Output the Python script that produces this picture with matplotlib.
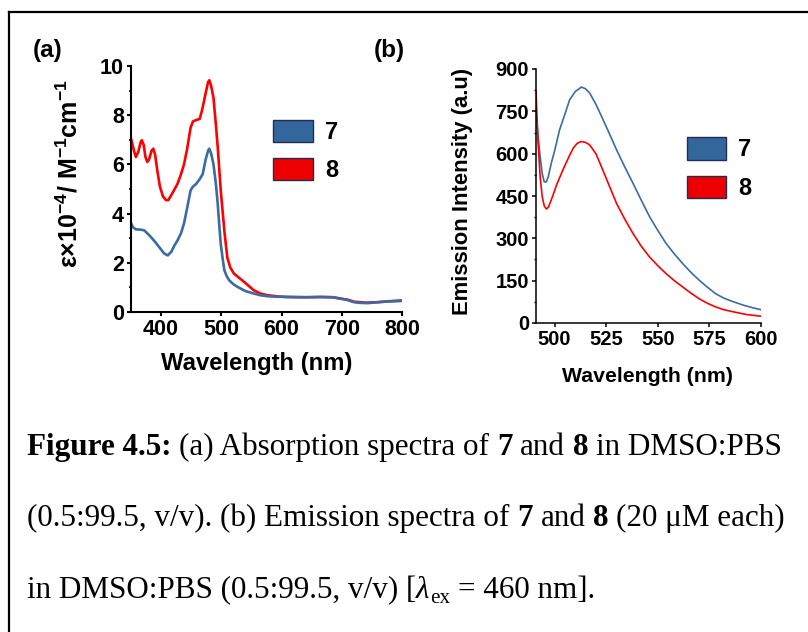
import matplotlib
matplotlib.use("Agg")
import matplotlib.pyplot as plt
from matplotlib.patches import Patch
from matplotlib.lines import Line2D
from matplotlib.ticker import MultipleLocator

plt.rcParams["font.family"] = ["Liberation Sans", "DejaVu Sans"]
plt.rcParams["mathtext.fontset"] = "custom"
plt.rcParams["mathtext.rm"] = "Liberation Sans:bold"
plt.rcParams["mathtext.it"] = "Liberation Sans:bold"
plt.rcParams["mathtext.bf"] = "Liberation Sans:bold"

# ---- absorption spectra (panel a) ----
abs_wl_8 = [350, 355, 358, 362, 366, 368, 371, 374, 377, 380, 384, 387, 390, 394,
            398, 403, 408, 412, 418, 427, 433, 438, 443, 449, 453, 458, 464, 468,
            474, 478, 480, 483, 487, 491, 494, 499, 505, 510, 515, 521, 530, 538,
            546, 554, 565, 577, 595, 610, 640, 665, 685, 698, 710, 720, 730, 740,
            760, 780, 800]
abs_eps_8 = [7.05, 6.55, 6.30, 6.50, 6.90, 6.98, 6.80, 6.30, 6.10, 6.20, 6.55, 6.64,
             6.40, 5.70, 5.10, 4.70, 4.55, 4.55, 4.80, 5.20, 5.60, 6.00, 6.60, 7.50,
             7.75, 7.80, 7.85, 8.20, 8.90, 9.35, 9.42, 9.20, 8.70, 7.60, 6.70, 4.95,
             3.30, 2.20, 1.80, 1.56, 1.38, 1.22, 1.05, 0.88, 0.75, 0.68, 0.63, 0.61,
             0.60, 0.61, 0.60, 0.54, 0.50, 0.42, 0.40, 0.38, 0.40, 0.44, 0.47]

abs_wl_7 = [350, 353, 358, 365, 372, 377, 383, 390, 398, 405, 411, 417, 422, 427,
            433, 438, 443, 449, 453, 458, 464, 469, 474, 478, 480, 483, 487, 491,
            494, 497, 499, 502, 505, 509, 513, 520, 527, 540, 554, 565, 577, 595,
            610, 640, 665, 685, 698, 710, 720, 730, 743, 760, 780, 800]
abs_eps_7 = [3.62, 3.45, 3.36, 3.35, 3.32, 3.20, 3.05, 2.85, 2.60, 2.38, 2.30, 2.45,
             2.70, 2.90, 3.20, 3.60, 4.20, 4.95, 5.10, 5.20, 5.40, 5.60, 6.20, 6.55,
             6.64, 6.45, 6.00, 5.20, 4.40, 3.40, 2.78, 2.20, 1.70, 1.45, 1.29, 1.13,
             1.02, 0.85, 0.75, 0.68, 0.64, 0.62, 0.61, 0.60, 0.61, 0.60, 0.55, 0.48,
             0.40, 0.37, 0.36, 0.40, 0.43, 0.45]

# ---- emission spectra (panel b) ----
em_wl_7 = [491, 492, 493, 494, 495, 496, 497, 498.4, 500, 502.4, 505, 507.3, 510,
           513, 515, 517, 520, 522, 526, 530, 534, 538, 542, 546, 550, 554, 558,
           562, 566, 570, 574, 578, 582, 586.7, 592, 596, 600]
em_int_7 = [750, 660, 590, 530, 500, 500, 520, 566, 610, 684, 740, 791, 820, 836,
            830, 815, 775, 744, 680, 614, 553, 495, 435, 377, 328, 282, 245, 211,
            180, 152, 127, 104, 88, 75, 62, 54, 47]

em_wl_8 = [491, 492, 493, 494, 495, 496, 497, 499, 501, 504, 507, 509, 511, 513,
           515, 517, 520, 522, 526, 530, 534, 538, 542, 546, 550, 554, 558, 562,
           566, 570, 574, 578, 582, 587, 593, 600]
em_int_8 = [820, 640, 520, 448, 415, 404, 410, 448, 490, 542, 590, 619, 637, 643,
            640, 631, 600, 566, 495, 424, 368, 317, 272, 234, 203, 175, 150, 128,
            106, 86, 70, 57, 47, 39, 30, 24]

series_labels = ["7", "8"]
BLUE = "#3A6BA3"
RED = "#FF0000"
PATCH_BLUE = "#33669A"
PATCH_RED = "#EE0000"
PATCH_EDGE = "#1E2E55"

W, H = 808, 632
fig = plt.figure(figsize=(W / 100, H / 100), dpi=100)


def fx(px):
    return px / W


def fy(py):
    return 1 - py / H


def legend_handles():
    return [Patch(facecolor=PATCH_BLUE, edgecolor=PATCH_EDGE, lw=1.0),
            Patch(facecolor=PATCH_RED, edgecolor=PATCH_EDGE, lw=1.0)]


# panel (a)
ax1 = fig.add_axes([fx(131), fy(312), fx(402) - fx(131), fy(66) - fy(312)])
ax1.plot(abs_wl_8, abs_eps_8, color=RED, lw=1.9, solid_joinstyle="round")
ax1.plot(abs_wl_7, abs_eps_7, color=BLUE, lw=1.9, solid_joinstyle="round")
ax1.set_xlim(350, 800)
ax1.set_ylim(0, 10)
ax1.xaxis.set_major_locator(MultipleLocator(100))
ax1.yaxis.set_major_locator(MultipleLocator(2))
ax1.yaxis.set_minor_locator(MultipleLocator(1))
for s in ("top", "right"):
    ax1.spines[s].set_visible(False)
for s in ("left", "bottom"):
    ax1.spines[s].set_linewidth(1.5)
ax1.tick_params(which="major", direction="out", length=3, width=1.5,
                labelsize=15.5, pad=2)
ax1.tick_params(which="minor", direction="out", length=1.8, width=1.2)
for lab in ax1.get_xticklabels() + ax1.get_yticklabels():
    lab.set_fontweight("bold")
ax1.set_xlabel("Wavelength (nm)", fontsize=17.2, fontweight="bold")
ax1.xaxis.set_label_coords((257 - 131) / 271, -(352 - 312) / 246)
ax1.xaxis.label.set_va("top")
ax1.set_ylabel("ε×10$^{-4}$/ M$^{-1}$cm$^{-1}$", fontsize=18, fontweight="bold")
ax1.yaxis.set_label_coords(-(131 - 82) / 271, (312 - 174) / 246)
ax1.legend(handles=legend_handles(), labels=series_labels, loc="upper left",
           bbox_to_anchor=(fx(273), fy(120)), bbox_transform=fig.transFigure,
           frameon=False, borderpad=0, borderaxespad=0, handlelength=1.7,
           handleheight=1.06, handletextpad=0.5, labelspacing=0.6,
           prop={"size": 17, "weight": "bold"})

# panel (b)
ax2 = fig.add_axes([fx(536), fy(323), fx(761) - fx(536), fy(69) - fy(323)])
ax2.plot(em_wl_7, em_int_7, color=BLUE, lw=1.2)
ax2.plot(em_wl_8, em_int_8, color=RED, lw=1.2)
ax2.set_xlim(491, 600)
ax2.set_ylim(0, 900)
ax2.xaxis.set_major_locator(MultipleLocator(25))
ax2.yaxis.set_major_locator(MultipleLocator(150))
ax2.yaxis.set_minor_locator(MultipleLocator(75))
for s in ("top", "right"):
    ax2.spines[s].set_visible(False)
for s in ("left", "bottom"):
    ax2.spines[s].set_linewidth(1.1)
ax2.tick_params(which="major", direction="out", length=3, width=1.1,
                labelsize=14.5, pad=2)
ax2.tick_params(which="minor", direction="out", length=1.8, width=1.0)
for lab in ax2.get_xticklabels() + ax2.get_yticklabels():
    lab.set_fontweight("bold")
ax2.set_xlabel("Wavelength (nm)", fontsize=15.3, fontweight="bold")
ax2.xaxis.set_label_coords((647 - 536) / 225, -(367 - 323) / 254)
ax2.xaxis.label.set_va("top")
ax2.set_ylabel("Emission Intensity (a.u)", fontsize=15.8, fontweight="bold")
ax2.yaxis.set_label_coords(-(536 - 473) / 225, (323 - 191) / 254)
ax2.legend(handles=legend_handles(), labels=series_labels, loc="upper left",
           bbox_to_anchor=(fx(687), fy(137)), bbox_transform=fig.transFigure,
           frameon=False, borderpad=0, borderaxespad=0, handlelength=1.65,
           handleheight=1.1, handletextpad=0.5, labelspacing=0.6,
           prop={"size": 17, "weight": "bold"})

# panel tags
fig.text(fx(33), fy(50), "(a)", fontsize=17.5, fontweight="bold", va="center", ha="left")
fig.text(fx(374), fy(50), "(b)", fontsize=17.5, fontweight="bold", va="center", ha="left")

# frame around the figure block
fig.add_artist(Line2D([fx(9), 1.0], [fy(11.5), fy(11.5)], color="black", lw=1.6,
                      transform=fig.transFigure))
fig.add_artist(Line2D([fx(9), fx(9)], [fy(11.5), 0.0], color="black", lw=1.6,
                      transform=fig.transFigure))

# caption, written run by run so bold, italic and subscript pieces sit inline
renderer = fig.canvas.get_renderer()
CAP_SIZE = 22.4
SERIF = "Liberation Serif"


def run_width(s, **kw):
    """Advance width of a string in pixels (bar glyphs keep the ends counted)."""
    t1 = fig.text(0, 0, "|" + s + "|", **kw)
    t2 = fig.text(0, 0, "||", **kw)
    w = t1.get_window_extent(renderer).width - t2.get_window_extent(renderer).width
    t1.remove()
    t2.remove()
    return w


SPACE = run_width(" ", family=SERIF, fontsize=CAP_SIZE)


def draw_line(x_px, y_px, runs):
    """runs: (text, weight, style, size scale, baseline shift, space after)."""
    x = x_px
    for s, weight, style, scale, dy, gap in runs:
        kw = dict(family=SERIF, fontsize=CAP_SIZE * scale, fontweight=weight,
                  fontstyle=style)
        fig.text(fx(x), fy(y_px + dy), s, ha="left", va="baseline", **kw)
        x += run_width(s, **kw) + (SPACE if gap else 0)


R, B = "normal", "bold"
N, I = "normal", "italic"
draw_line(27, 455, [("Figure 4.5:", B, N, 1, 0, True),
                    ("(a) Absorption spectra of", R, N, 1, 0, True),
                    ("7", B, N, 1, 0, True), ("and", R, N, 1, 0, True),
                    ("8", B, N, 1, 0, True), ("in DMSO:PBS", R, N, 1, 0, False)])
draw_line(27, 526, [("(0.5:99.5, v/v). (b) Emission spectra of", R, N, 1, 0, True),
                    ("7", B, N, 1, 0, True), ("and", R, N, 1, 0, True),
                    ("8", B, N, 1, 0, True), ("(20 μM each)", R, N, 1, 0, False)])
draw_line(27, 598, [("in DMSO:PBS (0.5:99.5, v/v) [", R, N, 1, 0, False),
                    ("λ", R, I, 1, 0, False), ("ex", R, N, 0.68, 5, True),
                    ("= 460 nm].", R, N, 1, 0, False)])

fig.savefig("out.png", dpi=100)
